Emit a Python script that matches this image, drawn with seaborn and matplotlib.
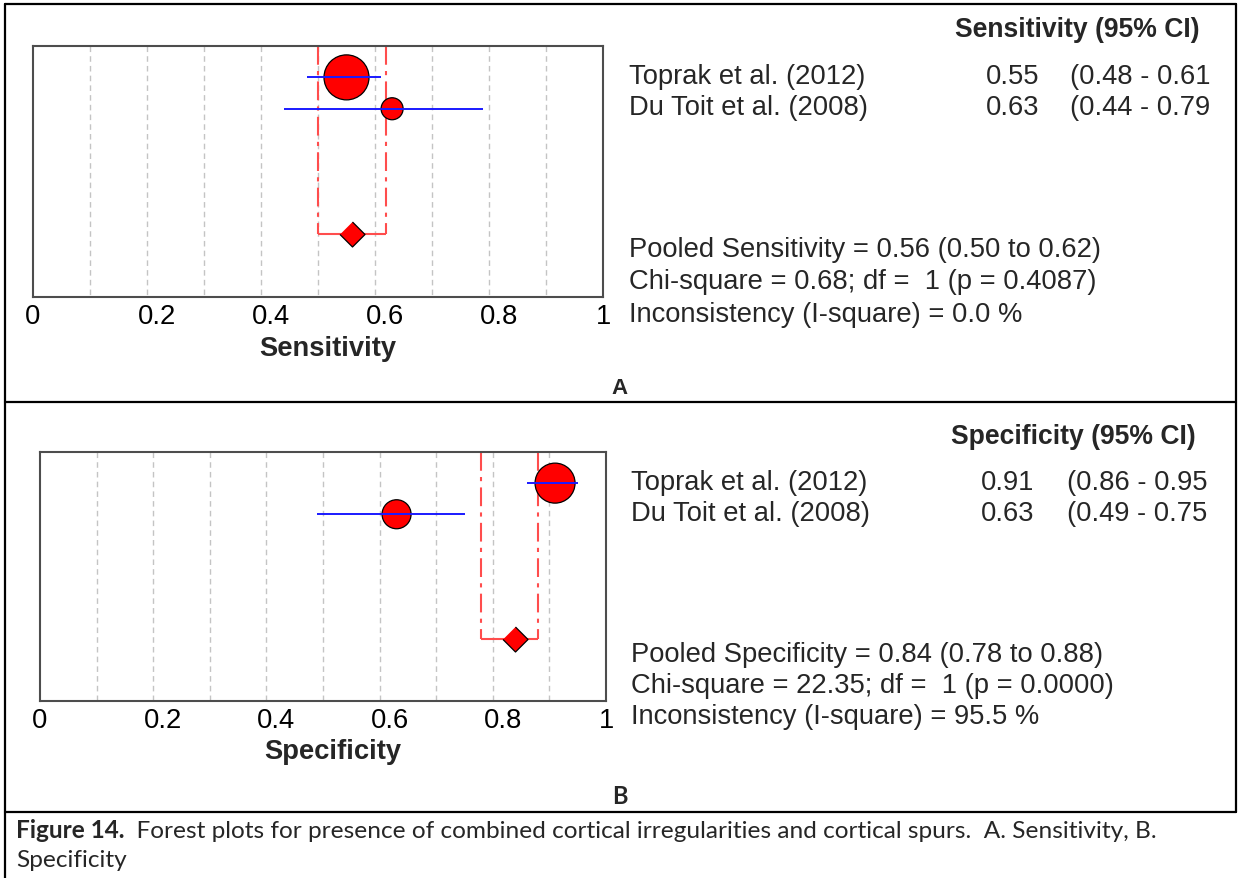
import matplotlib
matplotlib.use("Agg")
import matplotlib.pyplot as plt
from matplotlib.lines import Line2D
from matplotlib.transforms import ScaledTranslation
import seaborn as sns
import pandas as pd

# ---------------- data ----------------
studies = ["Toprak et al. (2012)", "Du Toit et al. (2008)"]

sens_est = [0.55, 0.63]
sens_lo = [0.48, 0.44]
sens_hi = [0.61, 0.79]
sens_pooled = [0.56, 0.50, 0.62]          # estimate, lower, upper
sens_ci_text = ["(0.48 - 0.61", "(0.44 - 0.79"]
sens_stats = ["Pooled Sensitivity = 0.56 (0.50 to 0.62)",
              "Chi-square = 0.68; df =  1 (p = 0.4087)",
              "Inconsistency (I-square) = 0.0 %"]

spec_est = [0.91, 0.63]
spec_lo = [0.86, 0.49]
spec_hi = [0.95, 0.75]
spec_pooled = [0.84, 0.78, 0.88]
spec_ci_text = ["(0.86 - 0.95", "(0.49 - 0.75"]
spec_stats = ["Pooled Specificity = 0.84 (0.78 to 0.88)",
              "Chi-square = 22.35; df =  1 (p = 0.0000)",
              "Inconsistency (I-square) = 95.5 %"]

xtick_vals = [0, 0.2, 0.4, 0.6, 0.8, 1.0]
xtick_labels = ["0", "0.2", "0.4", "0.6", "0.8", "1"]
grid_vals = [0.1, 0.2, 0.3, 0.4, 0.5, 0.6, 0.7, 0.8, 0.9]

caption_bold = "Figure 14."
caption_rest = "  Forest plots for presence of combined cortical irregularities and cortical spurs.  A. Sensitivity, B."
caption_line2 = "Specificity"

# ---------------- style ----------------
sns.set_theme(style="white")
plt.rcParams["font.family"] = ["Liberation Sans", "DejaVu Sans"]

W, H = 1240, 879
fig = plt.figure(figsize=(W / 100, H / 100), dpi=100)
fig.patch.set_facecolor("white")

FS = 19.7
HFS = 19.1
RED = "#ff0000"
LRED = "#ff4d4d"
BLUE = "#1a1aff"
row_y = [1, 2]
pooled_y = 6


def fx(x):
    return x / W


def fy(y):
    return 1 - y / H


def panel(rect, est, lo, hi, pooled, diam, xlabel):
    ax = fig.add_axes(rect)
    df = pd.DataFrame({"study": studies, "est": est, "y": row_y,
                       "s": [(d * 0.72) ** 2 for d in diam]})
    # grid
    ax.vlines(grid_vals, 0, 8, colors="#c4c4c4", linestyles=(0, (4, 3)),
              linewidth=1.0, zorder=0)
    # pooled bracket
    ax.vlines([pooled[1], pooled[2]], 0, pooled_y, colors=LRED,
              linestyles=(0, (9, 3, 2, 3)), linewidth=1.5, zorder=1)
    ax.hlines(pooled_y, pooled[1], pooled[2], colors=LRED, linewidth=1.5, zorder=1)
    # study circles
    sns.scatterplot(data=df, x="est", y="y", s=df["s"].values, color=RED,
                    edgecolor="black", linewidth=0.9, ax=ax, zorder=3, legend=False)
    # CI lines
    ax.hlines(row_y, lo, hi, colors=BLUE, linewidth=1.4, zorder=4)
    # pooled diamond
    dpool = pd.DataFrame({"est": [pooled[0]], "y": [pooled_y]})
    sns.scatterplot(data=dpool, x="est", y="y",
                    marker=[(0, 1), (1, 0), (0, -1), (-1, 0)],
                    s=(25 * 0.72) ** 2, color=RED, edgecolor="black",
                    linewidth=0.9, ax=ax, zorder=5, legend=False)
    ax.set_xlim(0, 1)
    ax.set_ylim(8, 0)
    ax.set_yticks([])
    ax.set_xticks(xtick_vals)
    ax.set_xticklabels(xtick_labels, fontsize=FS)
    ax.tick_params(axis="x", length=0, pad=4, colors="black")
    # interior labels sit slightly right of their positions in the original
    for lab in ax.get_xticklabels()[1:-1]:
        lab.set_transform(lab.get_transform() +
                          ScaledTranslation(0.10, 0, fig.dpi_scale_trans))
    ax.set_ylabel("")
    ax.set_xlabel(xlabel, fontsize=FS, fontweight="bold")
    ax.xaxis.set_label_coords(0.518, -0.15)
    for sp in ax.spines.values():
        sp.set_visible(True)
        sp.set_color("#4d4d4d")
        sp.set_linewidth(1.5)
    return ax


# ---------------- panel A ----------------
panel([fx(33), fy(298), (603 - 33) / W, (298 - 47) / H],
      sens_est, sens_lo, sens_hi, sens_pooled, [45, 22], "Sensitivity")

fig.text(fx(1200), fy(30), "Sensitivity (95% CI)", ha="right", va="center",
         fontsize=HFS, fontweight="bold")
for i, yy in enumerate([77, 108]):
    fig.text(fx(629), fy(yy), studies[i], ha="left", va="center", fontsize=FS)
    fig.text(fx(1039), fy(yy), f"{sens_est[i]:.2f}", ha="right", va="center", fontsize=FS)
    fig.text(fx(1070), fy(yy), sens_ci_text[i], ha="left", va="center", fontsize=FS)
for t, yy in zip(sens_stats, [250, 282, 315]):
    fig.text(fx(629), fy(yy), t, ha="left", va="center", fontsize=FS)
fig.text(fx(620), fy(388), "A", ha="center", va="center", fontsize=16, fontweight="bold")

# ---------------- panel B ----------------
panel([fx(40), fy(702), (606 - 40) / W, (702 - 453) / H],
      spec_est, spec_lo, spec_hi, spec_pooled, [40, 29], "Specificity")

fig.text(fx(1196), fy(437), "Specificity (95% CI)", ha="right", va="center",
         fontsize=HFS, fontweight="bold")
for i, yy in enumerate([483, 514]):
    fig.text(fx(631), fy(yy), studies[i], ha="left", va="center", fontsize=FS)
    fig.text(fx(1034), fy(yy), f"{spec_est[i]:.2f}", ha="right", va="center", fontsize=FS)
    fig.text(fx(1067), fy(yy), spec_ci_text[i], ha="left", va="center", fontsize=FS)
for t, yy in zip(spec_stats, [655, 686, 717]):
    fig.text(fx(631), fy(yy), t, ha="left", va="center", fontsize=FS)
fig.text(fx(620), fy(797), "B", ha="center", va="center", fontsize=17,
         fontweight="bold", family=["Lato", "DejaVu Sans"])

# ---------------- frame ----------------
def seg(x0, y0, x1, y1):
    fig.add_artist(Line2D([fx(x0), fx(x1)], [fy(y0), fy(y1)], color="black",
                          linewidth=1.6, transform=fig.transFigure))

seg(5, 5, 1236, 5)
seg(5, 5, 5, 879)
seg(1236, 5, 1236, 813)
seg(5, 403, 1236, 403)
seg(5, 813, 1236, 813)

# ---------------- caption ----------------
CFS = 17.6
tb = fig.text(fx(16), fy(838), caption_bold, ha="left", va="baseline", fontsize=CFS,
              fontweight="bold", family=["Lato", "DejaVu Sans"])
fig.canvas.draw()
bb = tb.get_window_extent(renderer=fig.canvas.get_renderer())
fig.text(bb.x1 / W, fy(838), caption_rest, ha="left", va="baseline", fontsize=CFS,
         family=["Lato", "DejaVu Sans"])
fig.text(fx(16), fy(867), caption_line2, ha="left", va="baseline", fontsize=CFS,
         family=["Lato", "DejaVu Sans"])

fig.savefig("out.png", dpi=100, facecolor="white")
